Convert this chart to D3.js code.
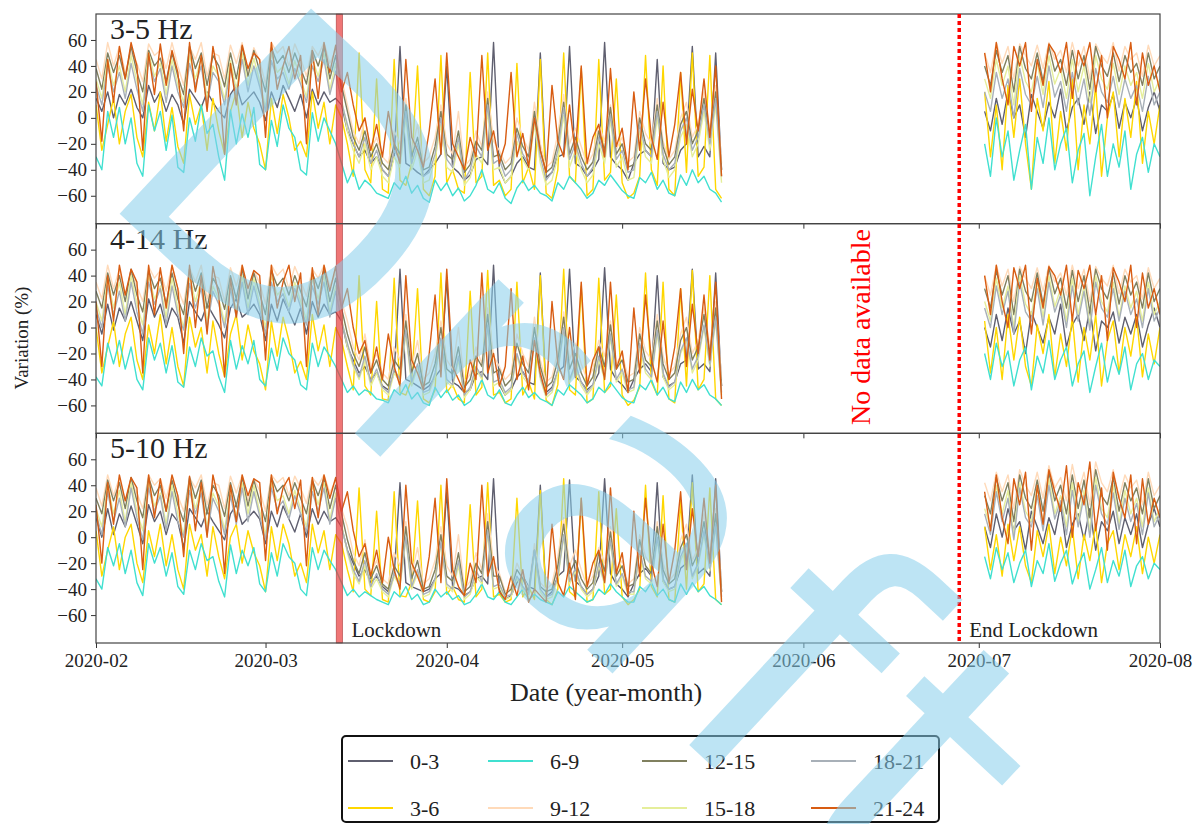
<!DOCTYPE html>
<html><head><meta charset="utf-8">
<script src="https://cdn.jsdelivr.net/npm/d3@7"></script>
<style>body{margin:0;background:#fff}svg{display:block}text{font-family:'Liberation Serif','Times New Roman',serif;fill:#222}</style>
</head><body><svg id="chart" width="1202" height="824"></svg>
<script>
// ---------------- data ----------------
const panelTitles = ["3-5 Hz", "4-14 Hz", "5-10 Hz"];
const seriesNames = ["0-3", "3-6", "6-9", "9-12", "12-15", "15-18", "18-21", "21-24"];
const seriesColors = ["#5f5f6f", "#ffd700", "#40e0d0", "#ffdab9", "#80805f", "#e5ee9a", "#a8b0b8", "#d85c12"];
const yTickValues = [-60, -40, -20, 0, 20, 40, 60];
const xTickLabels = ["2020-02", "2020-03", "2020-04", "2020-05", "2020-06", "2020-07", "2020-08"];
const segmentStarts = ["2020-02-01", "2020-07-02"];
const segmentLengths = [108, 31];
const lockdownSpan = ["2020-03-13", "2020-03-14"];
const endLockdownDate = "2020-06-28";
const watermarkText = "Draft";

// 3-5 Hz
const hz35_h00 = [15,5,20,0,18,10,22, 8,0,25,12,20,5,18, 10,-5,22,15,8,20,12, 5,0,18,25,10,15,20, 12,-2,20,8,25,15,5, 18,0,22,10,20,12,15, 10,-10,-20,-30,-25,-35,-30, -40,-45,-30,55,-35,-38,-42, -45,-40,-35,-28,40,-38,-42, -48,-44,-32,-30,-36,58,-40, -50,-45,-35,-30,-38,-40,50, -46,-42,-30,-28,55,-35,-38, -45,-40,-32,58,-30,-36,-40, -48,-35,-28,-25,-30,45,-35, -40,-38,-25,-20,55,-30,-22, -30,50,-40,
  5,-10,15,-5,20,0,10,-15,18,5,-8,12,0,22,-10,8,15,-5,20,-12,10,5,18,-8,12,0,15,-10,8,20,5];
const hz35_h03 = [10,-25,-5,15,-20,5,18, -15,-30,12,-10,20,-18,8, -22,-35,18,-5,10,-25,15, -10,-28,5,20,-15,12,-8, -20,-40,15,-12,18,0,-25, -18,-30,20,-8,12,-20,10, 0,-20,-45,50,-40,-50,30, -55,-58,45,-48,-52,-35,40, -55,-60,-45,48,-50,-40,-55, -58,35,-50,-45,50,-52,-48, -60,-55,42,-50,-38,-55,45, -58,-62,-40,50,-45,-50,38, -60,-55,45,-48,-42,30,-50, -62,-58,-45,48,-40,-52,40, -55,-60,35,-42,50,-45,-38, 48,-55,-62,
  20,-30,10,-40,25,-15,30,-20,-55,15,-10,28,-35,5,-25,30,-40,10,-20,25,-45,0,20,-30,15,-15,28,-35,5,-20,10];
const hz35_h06 = [-30,-40,5,-15,8,-20,0, -35,-45,10,-10,5,-25,2, -38,-42,0,-18,10,-12,-5, -30,-48,6,-20,3,-15,8, -36,-40,-2,-22,10,-8,-15, -40,-44,4,-18,0,-10,-20, -35,-50,-40,-55,-48,-52,-58, -60,-62,-50,-55,-45,-58,-52, -62,-65,-48,-56,-50,-60,-54, -64,-60,-52,-40,-55,-58,-50, -62,-66,-54,-48,-56,-52,-58, -60,-64,-50,-55,-45,-50,-55, -62,-58,-48,-52,-44,-50,-56, -60,-62,-46,-50,-42,-55,-48, -58,-60,-44,-52,-40,-50,-45, -55,-58,-65,
  -20,-45,0,-30,-10,-48,-25,-5,-55,-15,-35,0,-40,-20,-8,-50,-25,-12,-60,-30,-5,-45,-20,-38,-10,-55,-28,-15,-42,-20,-30];
const hz35_h09 = [45,30,58,40,55,35,50, 42,28,57,48,52,38,58, 40,25,55,45,58,32,50, 48,30,56,42,58,36,54, 44,26,58,50,55,40,57, 46,32,55,48,58,42,52, 30,10,-10,-20,0,-25,-15, -30,-35,-10,-20,15,-25,-5, -35,-30,-15,10,-20,-28,5, -38,-32,-10,-22,20,-18,-25, -35,-30,0,-15,-25,12,-20, -38,-34,-12,18,-20,-8,-22, -36,-28,-5,-18,10,-24,-15, -34,-30,5,-12,-20,15,-18, -32,-25,0,12,-15,-5,20, -10,25,-35,
  50,35,58,42,55,30,57,48,40,56,38,58,45,52,35,58,40,55,30,57,48,42,58,36,55,45,50,32,56,40,48];
const hz35_h12 = [38,22,50,35,48,30,55, 35,20,52,40,46,28,50, 32,18,55,38,50,25,48, 40,24,50,30,55,32,52, 36,20,54,42,48,35,50, 38,26,52,40,55,30,48, 25,5,-15,-25,-10,-30,-20, -35,-40,-20,-28,10,-30,-15, -40,-38,-22,5,-28,-32,-10, -42,-36,-18,-25,15,-30,-28, -40,-35,-8,-22,-30,5,-25, -42,-38,-20,12,-28,-15,-30, -40,-34,-10,-25,8,-28,-20, -38,-36,0,-20,-25,10,-22, -36,-30,-5,5,-20,-10,15, -15,20,-40,
  40,25,52,35,48,20,55,38,30,50,28,55,36,45,25,52,30,48,22,55,40,32,50,28,48,35,42,25,50,30,40];
const hz35_h15 = [30,15,45,25,40,20,48, 28,10,50,32,42,18,45, 25,12,48,30,46,15,40, 32,14,44,22,50,25,46, 28,8,50,35,40,26,44, 30,16,46,32,50,22,42, 15,-10,-25,-35,-20,-40,-30, -45,-50,-30,-38,0,-40,-25, -50,-48,-32,-5,-38,-42,-20, -52,-46,-28,-35,5,-40,-38, -50,-45,-18,-32,-40,-5,-35, -52,-48,-30,2,-38,-25,-40, -50,-44,-20,-35,-2,-38,-30, -48,-46,-10,-30,-35,0,-32, -46,-40,-15,-5,-30,-20,5, -25,10,-50,
  30,15,45,25,40,10,48,28,20,42,18,48,26,38,15,45,20,40,12,48,30,22,42,18,40,25,35,15,42,20,30];
const hz35_h18 = [25,10,40,20,35,15,42, 22,5,45,28,38,12,40, 20,8,42,25,40,10,35, 28,10,38,18,45,20,40, 24,5,44,30,35,22,38, 26,12,40,28,45,18,36, 12,-5,-20,-30,-15,-35,-25, -40,-45,-25,-32,5,-35,-20, -45,-42,-28,0,-32,-38,-15, -48,-40,-22,-30,10,-35,-32, -45,-40,-12,-28,-35,0,-30, -48,-42,-25,8,-32,-20,-35, -45,-38,-15,-30,2,-32,-25, -42,-40,-5,-25,-30,5,-28, -40,-35,-10,0,-25,-15,10, -20,15,-45,
  20,5,35,15,30,0,38,18,10,32,8,40,16,28,5,35,10,30,2,38,20,12,32,8,30,15,25,5,32,10,20];
const hz35_h21 = [28,-18,45,12,55,30,58, 40,-25,50,18,57,25,52, 35,-10,58,20,48,5,55, 30,-28,42,10,56,38,50, 45,-15,58,22,40,55,30, 48,-20,52,15,58,35,56, 20,35,10,-10,0,-25,-5, -30,5,-20,-35,45,-15,-25, -38,-10,30,-28,50,-20,-30, -40,-15,-30,48,-25,-10,-35, -20,35,-30,-12,-38,0,-25, -42,25,-18,-30,10,-28,40, -35,-15,-5,-30,38,-22,-8, -40,20,-25,30,-15,-32,12, -30,-5,35,-20,22,-10,30, -15,40,-45,
  50,20,58,30,10,55,40,58,5,45,25,57,50,35,58,15,52,40,58,20,48,0,55,45,30,58,10,50,25,40,20];

// 4-14 Hz
const hz414_h00 = [10,-5,18,-2,15,5,20, 5,-10,22,8,18,0,15, 8,-12,20,12,5,18,10, 2,-8,15,22,8,12,18, 10,-10,18,5,22,12,2, 15,-5,20,8,18,10,12, 5,-15,-25,-35,-30,-40,-35, -45,-48,-35,45,-40,-42,-45, -48,-45,-38,-32,38,-42,-45, -50,-48,-36,-34,-40,48,-44, -52,-48,-38,-34,-42,-44,42, -50,-46,-34,-30,45,-38,-42, -48,-44,-35,46,-32,-40,-44, -50,-40,-32,-28,-34,40,-38, -45,-42,-28,-25,45,-32,-28, -34,42,-45,
  0,-15,10,-10,15,-5,5,-20,12,0,-12,8,-5,18,-15,2,10,-10,15,-18,5,0,12,-12,8,-5,10,-15,2,15,0];
const hz414_h03 = [0,-35,-15,5,-30,-5,8, -25,-40,2,-20,10,-28,0, -30,-45,8,-15,0,-35,5, -20,-38,-5,10,-25,2,-18, -28,-48,5,-22,8,-10,-35, -26,-40,10,-18,2,-30,0, -10,-30,-48,40,-45,-52,20, -55,-56,38,-50,-52,-40,30, -55,-58,-48,42,-50,-44,-55, -58,28,-52,-46,44,-52,-50, -58,-55,35,-52,-42,-55,40, -56,-60,-44,45,-48,-52,32, -58,-55,38,-50,-45,25,-52, -60,-56,-46,42,-42,-52,35, -55,-58,30,-45,44,-48,-40, 40,-55,-60,
  5,-35,0,-40,10,-25,8,-30,-45,2,-20,10,-38,-5,-30,8,-42,0,-25,10,-45,-10,5,-35,0,-22,8,-38,-5,-28,0];
const hz414_h06 = [-38,-45,-12,-28,-10,-32,-15, -40,-48,-8,-25,-12,-35,-14, -42,-46,-15,-30,-8,-22,-18, -38,-50,-10,-32,-14,-28,-10, -40,-45,-16,-33,-8,-20,-25, -44,-48,-12,-30,-15,-22,-30, -40,-50,-45,-52,-48,-50,-55, -56,-58,-48,-52,-44,-55,-50, -58,-60,-46,-54,-48,-56,-52, -60,-57,-50,-40,-52,-55,-48, -58,-60,-52,-46,-54,-50,-55, -57,-60,-48,-52,-44,-48,-52, -58,-55,-46,-50,-42,-48,-54, -57,-58,-44,-48,-40,-52,-46, -55,-57,-42,-50,-40,-48,-44, -52,-55,-60,
  -20,-40,-12,-30,-18,-45,-25,-15,-48,-22,-35,-10,-40,-25,-15,-45,-28,-18,-50,-30,-12,-42,-22,-36,-15,-48,-28,-20,-40,-25,-30];
const hz414_h09 = [35,22,48,30,45,25,42, 32,20,47,38,44,28,48, 30,18,46,35,48,22,40, 38,20,46,32,48,26,44, 34,18,48,40,45,30,47, 36,24,45,38,48,32,42, 20,5,-15,-25,-5,-30,-20, -35,-40,-15,-25,10,-30,-10, -40,-35,-20,5,-25,-32,0, -42,-36,-15,-28,15,-22,-30, -40,-35,-5,-20,-30,8,-25, -42,-38,-18,12,-25,-12,-28, -40,-32,-10,-22,5,-28,-20, -38,-35,0,-18,-25,10,-22, -36,-30,-5,8,-20,-10,15, -15,20,-40,
  40,25,48,32,45,20,47,38,30,46,28,48,35,42,25,48,30,45,20,47,38,32,48,26,45,35,40,22,46,30,38];
const hz414_h12 = [28,15,42,25,40,20,45, 25,12,44,30,38,18,42, 22,10,45,28,42,15,38, 30,14,40,22,45,22,42, 26,10,44,32,38,25,40, 28,16,42,30,45,20,38, 15,-5,-20,-30,-15,-35,-25, -40,-45,-25,-32,5,-35,-20, -45,-42,-28,0,-32,-36,-15, -46,-40,-22,-30,10,-35,-32, -45,-40,-12,-28,-35,0,-30, -46,-42,-25,8,-32,-20,-35, -45,-38,-15,-30,2,-32,-25, -42,-40,-5,-25,-30,5,-28, -40,-35,-10,0,-25,-15,10, -20,15,-45,
  30,15,44,25,40,10,45,28,20,42,18,46,26,38,15,44,20,40,12,45,30,22,42,18,40,25,35,15,42,20,30];
const hz414_h15 = [20,5,38,15,35,10,40, 18,2,40,22,32,8,38, 15,0,40,20,36,5,32, 22,4,35,12,40,15,38, 18,0,40,25,30,16,35, 20,6,38,22,40,12,32, 8,-15,-30,-40,-25,-45,-35, -48,-52,-35,-42,-5,-45,-30, -52,-50,-38,-10,-42,-46,-25, -54,-48,-32,-40,0,-45,-42, -52,-48,-22,-38,-44,-10,-40, -54,-50,-35,-2,-42,-30,-45, -52,-46,-25,-40,-8,-42,-35, -50,-48,-15,-35,-40,-5,-38, -48,-44,-20,-10,-35,-25,0, -30,5,-52,
  20,5,38,15,32,0,40,18,10,35,8,40,16,30,5,38,10,32,2,40,20,12,35,8,32,15,28,5,35,10,20];
const hz414_h18 = [15,0,32,10,28,5,35, 12,-5,35,18,30,2,32, 10,-2,34,15,30,0,28, 18,0,30,8,35,10,32, 14,-5,35,20,26,12,30, 16,2,32,18,35,8,28, 5,-12,-28,-38,-22,-42,-32, -46,-50,-32,-40,-2,-42,-28, -50,-48,-35,-8,-40,-44,-22, -52,-46,-30,-38,2,-42,-40, -50,-46,-20,-35,-42,-8,-38, -52,-48,-32,0,-40,-28,-42, -50,-44,-22,-38,-5,-40,-32, -48,-46,-12,-32,-38,-2,-35, -46,-42,-18,-8,-32,-22,2, -28,8,-50,
  15,0,32,10,28,-5,35,12,5,30,2,35,12,25,0,32,5,28,-2,35,15,8,30,5,28,10,22,0,30,5,15];
const hz414_h21 = [20,-30,40,5,48,25,45, 35,-35,48,10,46,15,48, 30,-20,48,0,40,-5,47, 25,-38,38,8,48,30,44, 40,-25,48,15,35,48,20, 42,-30,46,10,48,28,47, 15,30,0,-20,-10,-35,-15, -40,-5,-30,-45,40,-25,-35, -48,-20,25,-38,45,-30,-40, -50,-25,-40,42,-35,-20,-45, -30,30,-40,-22,-48,-10,-35, -52,20,-28,-40,0,-38,35, -45,-25,-15,-40,35,-32,-18, -50,15,-35,25,-25,-42,5, -40,-15,30,-30,18,-20,25, -25,35,-55,
  40,10,48,20,0,46,30,48,-5,38,15,47,40,25,48,5,44,30,48,10,40,-10,46,35,20,48,0,42,15,30,10];

// 5-10 Hz
const hz510_h00 = [15,0,22,2,18,8,24, 10,-5,25,12,20,2,18, 12,-8,22,15,8,20,12, 5,-2,18,25,10,15,20, 14,-5,20,8,24,14,4, 18,0,22,10,20,12,15, 8,-10,-20,-30,-25,-35,-30, -38,-42,-30,42,-35,-38,-40, -42,-40,-32,-28,35,-38,-40, -45,-42,-32,-30,-36,45,-40, -48,-45,-35,-30,-38,-40,40, -46,-42,-30,-26,44,-34,-38, -44,-40,-30,45,-28,-36,-40, -46,-36,-28,-24,-30,42,-34, -40,-38,-24,-20,48,-28,-24, -30,45,-42,
  8,-8,18,0,22,5,12,-10,20,8,-5,15,2,25,-8,10,18,-2,22,-10,12,5,20,-5,15,2,18,-8,10,22,8];
const hz510_h03 = [5,-30,-10,8,-25,0,10, -20,-35,5,-15,10,-22,2, -25,-40,10,-10,2,-30,8, -15,-32,0,10,-20,5,-12, -22,-42,8,-18,10,-5,-30, -20,-35,10,-12,5,-25,2, -5,-25,-42,38,-40,-45,20, -48,-50,35,-45,-46,-35,28, -48,-50,-42,40,-44,-38,-48, -50,25,-46,-40,42,-46,-44, -50,-48,30,-46,-38,-48,36, -48,-52,-40,45,-42,-46,30, -50,-48,35,-44,-40,22,-46, -52,-48,-40,40,-38,-46,32, -48,-50,28,-40,42,-42,-36, 38,-48,-52,
  8,-25,2,-30,10,-18,8,-22,-35,5,-15,10,-28,0,-22,8,-32,2,-18,10,-35,-5,5,-25,2,-15,8,-28,0,-20,2];
const hz510_h06 = [-32,-40,-8,-22,-5,-28,-10, -35,-45,-5,-20,-8,-30,-12, -38,-44,-10,-25,-5,-18,-15, -34,-46,-6,-28,-10,-22,-8, -36,-42,-12,-30,-5,-15,-20, -40,-45,-8,-25,-10,-18,-25, -35,-45,-40,-46,-42,-45,-48, -50,-52,-42,-46,-38,-48,-44, -52,-50,-40,-46,-42,-48,-45, -52,-50,-44,-36,-46,-48,-42, -50,-52,-46,-40,-48,-44,-48, -50,-52,-42,-46,-38,-42,-46, -50,-48,-40,-44,-36,-42,-46, -50,-50,-38,-42,-35,-45,-40, -48,-50,-36,-44,-35,-42,-38, -45,-48,-52,
  -15,-32,-8,-25,-12,-35,-20,-10,-38,-18,-28,-5,-34,-20,-10,-36,-22,-12,-40,-25,-8,-35,-18,-30,-10,-38,-22,-15,-32,-20,-25];
const hz510_h09 = [38,24,48,32,46,28,44, 34,22,48,40,45,30,47, 32,20,46,38,48,25,42, 40,22,47,34,48,28,45, 36,20,48,42,46,32,47, 38,26,46,40,48,34,44, 22,8,-12,-22,-2,-28,-18, -32,-36,-12,-22,12,-28,-8, -36,-32,-18,8,-22,-30,2, -40,-34,-12,-25,18,-20,-28, -42,-38,-20,-30,-40,-5,-35, -40,-36,-15,15,-22,-10,-25, -38,-30,-8,-20,8,-25,-18, -36,-32,2,-15,-22,12,-20, -34,-28,-2,10,-18,-8,18, -12,22,-38,
  42,28,50,35,48,22,52,40,32,50,30,55,38,46,28,56,34,50,25,58,42,35,52,30,48,38,44,25,50,32,40];
const hz510_h12 = [30,18,44,28,42,22,46, 28,15,46,32,40,20,44, 25,12,46,30,44,18,40, 32,16,42,24,46,24,44, 28,12,46,35,40,28,42, 30,18,44,32,46,22,40, 18,-2,-18,-28,-12,-32,-22, -36,-40,-22,-30,8,-32,-18, -40,-38,-25,2,-30,-34,-12, -42,-38,-20,-28,12,-30,-30, -44,-40,-25,-32,-42,-10,-38, -42,-40,-22,10,-28,-18,-32, -40,-35,-12,-26,4,-30,-22, -38,-36,-2,-22,-28,8,-25, -36,-32,-8,2,-22,-12,12, -18,18,-42,
  32,18,46,28,42,12,48,30,22,44,20,50,28,40,18,48,22,44,15,52,32,25,46,20,42,28,38,18,45,22,32];
const hz510_h15 = [22,8,40,18,36,12,42, 20,5,42,24,34,10,40, 18,2,42,22,38,8,34, 24,6,36,15,42,18,40, 20,2,42,28,32,18,36, 22,8,40,25,42,14,34, 10,-12,-28,-36,-22,-40,-32, -42,-46,-30,-38,-2,-40,-28, -46,-44,-34,-6,-38,-42,-22, -48,-44,-30,-36,2,-40,-38, -48,-46,-32,-40,-46,-12,-42, -48,-46,-32,0,-36,-26,-40, -46,-42,-22,-36,-5,-38,-30, -44,-44,-12,-32,-36,-2,-34, -42,-40,-18,-8,-32,-22,2, -26,8,-48,
  22,8,40,18,36,2,42,20,12,38,10,45,18,32,8,42,12,36,5,46,22,15,40,10,36,18,30,8,38,12,22];
const hz510_h18 = [18,2,35,12,30,8,38, 15,-2,38,20,32,5,35, 12,0,36,18,34,2,30, 20,2,32,10,38,12,35, 16,-2,38,22,28,14,32, 18,4,35,20,38,10,30, 8,-10,-25,-34,-18,-38,-28, -40,-44,-28,-36,0,-38,-25, -44,-42,-32,-4,-36,-40,-18, -46,-42,-26,-34,5,-38,-36, -46,-44,-30,-38,-44,-10,-40, -46,-44,-30,2,-34,-24,-38, -44,-40,-20,-34,-2,-36,-28, -42,-42,-10,-30,-34,0,-32, -40,-38,-15,-5,-30,-20,5, -24,10,-46,
  18,2,35,12,30,-2,38,15,8,32,5,40,14,28,2,36,8,32,0,40,18,10,34,6,30,12,26,2,34,8,18];
const hz510_h21 = [25,-20,42,10,48,28,46, 38,-25,48,15,45,20,48, 32,-15,47,5,42,0,48, 28,-28,40,12,48,32,45, 42,-18,48,18,38,46,22, 44,-22,46,15,48,30,46, 20,35,5,-15,-5,-30,-10, -35,0,-25,-40,40,-20,-30, -42,-15,30,-35,45,-25,-38, -45,-20,-35,40,-30,-15,-42, -48,-30,-45,-25,-50,-40,-45, -50,10,-35,-45,-20,-48,30, -38,-20,-10,-35,38,-28,-12, -45,20,-30,30,-20,-38,10, -35,-10,35,-25,22,-15,30, -20,40,-50,
  35,5,48,15,-5,45,25,50,-10,40,10,52,35,20,55,0,42,25,58,5,38,-10,50,30,15,48,-5,45,10,30,15];

const panelSeries = [
  [hz35_h00, hz35_h03, hz35_h06, hz35_h09, hz35_h12, hz35_h15, hz35_h18, hz35_h21],
  [hz414_h00, hz414_h03, hz414_h06, hz414_h09, hz414_h12, hz414_h15, hz414_h18, hz414_h21],
  [hz510_h00, hz510_h03, hz510_h06, hz510_h09, hz510_h12, hz510_h15, hz510_h18, hz510_h21]
];

// ---------------- drawing ----------------
const svg = d3.select("#chart");
const parse = d3.utcParse("%Y-%m-%d");
const L = 96, R = 1160, TOP = 14, BOTTOM = 643;
const PH = (BOTTOM - TOP) / 3;

const x = d3.scaleUtc().domain([parse("2020-02-01"), parse("2020-08-01")]).range([L, R]);

const segDates = segmentStarts.map((s, k) => d3.range(segmentLengths[k]).map(i => d3.utcDay.offset(parse(s), i)));

svg.append("defs").selectAll("clipPath").data([0,1,2]).join("clipPath")
  .attr("id", d => "clip" + d)
  .append("rect").attr("x", L).attr("y", d => TOP + d * PH).attr("width", R - L).attr("height", PH);

panelSeries.forEach((series, p) => {
  const top = TOP + p * PH;
  const y = d3.scaleLinear().domain([-81.5, 80]).range([top + PH, top]);
  const g = svg.append("g");
  const plot = g.append("g").attr("clip-path", `url(#clip${p})`);

  const line = d3.line().x(d => x(d[0])).y(d => y(d[1]));
  series.forEach((vals, si) => {
    let off = 0;
    segDates.forEach((dates, k) => {
      const pts = dates.map((dt, i) => [dt, vals[off + i]]).filter(d => d[1] !== undefined);
      off += segmentLengths[k];
      plot.append("path").attr("d", line(pts)).attr("fill", "none")
        .attr("stroke", seriesColors[si]).attr("stroke-width", 1.4).attr("stroke-linejoin", "round");
    });
  });

  const bx0 = x(parse(lockdownSpan[0])), bx1 = x(parse(lockdownSpan[1]));
  g.append("rect").attr("x", bx0 + 0.5).attr("width", bx1 - bx0 + 0.5)
    .attr("y", top).attr("height", PH).attr("fill", "#e83c3c").attr("fill-opacity", 0.7)
    .attr("stroke", "#b04040").attr("stroke-width", 0.6);

  const yAxis = d3.axisLeft(y).tickValues(yTickValues).tickSize(5).tickPadding(4).tickFormat(d3.format("d"));
  const ga = g.append("g").attr("transform", `translate(${L},0)`).call(yAxis);
  ga.select(".domain").remove();
  ga.selectAll("line").attr("stroke", "#333");
  ga.selectAll("text").style("font-size", "19px").style("font-family", "'Liberation Serif',serif").attr("fill", "#222");

  const xAxis = d3.axisBottom(x).ticks(d3.utcMonth.every(1)).tickSize(5).tickPadding(6)
    .tickFormat((d, i) => xTickLabels[i]);
  const gx = g.append("g").attr("transform", `translate(0,${top + PH})`).call(xAxis);
  gx.select(".domain").remove();
  gx.selectAll("line").attr("stroke", "#333");
  gx.selectAll("text").style("font-size", "19px").style("font-family", "'Liberation Serif',serif").attr("fill", "#222");
  if (p < 2) gx.selectAll("text").remove();

  g.append("rect").attr("x", L).attr("y", top).attr("width", R - L).attr("height", PH)
    .attr("fill", "none").attr("stroke", "#444").attr("stroke-width", 1.2);

  g.append("text").attr("x", 110).attr("y", top + 25).text(panelTitles[p])
    .style("font-size", "30px");
});

const ex = x(parse(endLockdownDate)) - 2;
svg.append("line").attr("x1", ex).attr("x2", ex)
  .attr("y1", TOP).attr("y2", BOTTOM).attr("stroke", "red").attr("stroke-width", 3.5).attr("stroke-dasharray", "4,3");

svg.append("text").attr("x", x(parse(lockdownSpan[1])) + 10).attr("y", 637).text("Lockdown").style("font-size", "21px");
svg.append("text").attr("x", ex + 10).attr("y", 637).text("End Lockdown").style("font-size", "21px");

svg.append("text").attr("transform", "translate(870,327) rotate(-90)").attr("text-anchor", "middle")
  .text("No data available").style("font-size", "28px").style("fill", "red");

svg.append("text").attr("x", 606).attr("y", 701).attr("text-anchor", "middle").text("Date (year-month)").style("font-size", "26px");
svg.append("text").attr("transform", "translate(28,338) rotate(-90)").attr("text-anchor", "middle").text("Variation (%)").style("font-size", "19px");

const lg = svg.append("g");
lg.append("rect").attr("x", 342).attr("y", 736).attr("width", 597).attr("height", 86).attr("rx", 4)
  .attr("fill", "#fff").attr("stroke", "#111").attr("stroke-width", 2);
const colX = [348, 488, 642, 811];
const rowY = [761, 808];
seriesNames.forEach((name, i) => {
  const c = Math.floor(i / 2), r = i % 2;
  lg.append("line").attr("x1", colX[c]).attr("x2", colX[c] + 45).attr("y1", rowY[r]).attr("y2", rowY[r])
    .attr("stroke", seriesColors[i]).attr("stroke-width", 2);
  lg.append("text").attr("x", colX[c] + 62).attr("y", rowY[r] + 8).text(name).style("font-size", "22px");
});

// watermark
svg.append("text").attr("transform", "translate(92,188) rotate(43)").text(watermarkText)
  .style("font-family", "'DejaVu Sans',sans-serif").style("font-size", "385px").style("letter-spacing", "28px")
  .style("fill", "#87ceeb").style("fill-opacity", 0.55);
</script></body></html>
